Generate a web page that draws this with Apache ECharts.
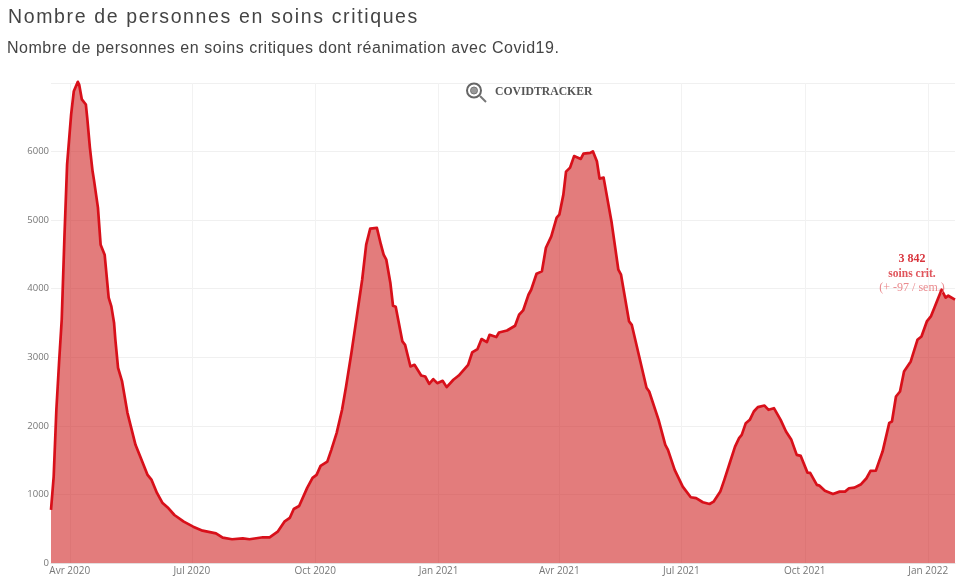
<!DOCTYPE html>
<html><head><meta charset="utf-8">
<script src="https://cdn.jsdelivr.net/npm/echarts@6/dist/echarts.min.js"></script>
<style>html,body{margin:0;padding:0;background:#fff}#c{width:960px;height:584px}</style>
</head><body><div id="c"></div>
<script>
const startDate = Date.UTC(2020, 2, 18);
const dayOffsets = [0,2,4,6,8,10,12,15,17,20,21,23,26,27,29,31,32,35,37,40,43,45,47,48,50,53,57,63,66,72,75,79,83,87,92,99,106,113,123,128,135,143,148,158,163,169,174,178,181,185,191,195,198,201,206,209,213,217,220,224,228,232,235,238,243,246,248,250,253,255,257,262,264,268,271,276,279,282,285,288,292,295,300,304,311,314,318,321,325,327,332,334,340,346,349,352,356,358,362,366,369,373,377,379,382,384,387,390,395,397,402,404,407,409,412,418,423,425,431,433,444,446,453,458,460,465,471,477,481,486,491,494,499,502,506,510,513,515,518,521,524,527,532,535,539,544,548,552,556,559,564,566,571,573,577,583,588,592,595,599,604,608,611,615,620,625,627,630,633,636,641,646,649,653,656,659,661,664,667,669,674];
const patients = [775,1260,2235,2920,3550,4745,5810,6540,6880,7017,6978,6760,6686,6495,6058,5712,5591,5182,4642,4496,3869,3742,3504,3255,2847,2647,2190,1723,1577,1285,1212,1022,880,810,700,603,530,472,433,369,346,360,346,375,375,457,603,657,788,832,1095,1241,1285,1416,1479,1650,1898,2234,2574,3066,3596,4131,4642,4876,4886,4642,4496,4423,4088,3752,3737,3231,3182,2866,2890,2734,2720,2613,2682,2623,2657,2565,2672,2734,2890,3070,3120,3266,3222,3328,3295,3362,3391,3460,3620,3683,3912,3985,4219,4253,4598,4764,5036,5080,5372,5708,5766,5934,5893,5971,5981,6004,5858,5606,5620,4964,4277,4204,3523,3474,2555,2501,2088,1723,1650,1358,1114,959,945,886,861,895,1041,1212,1455,1698,1820,1869,2039,2088,2209,2273,2296,2234,2258,2088,1917,1796,1577,1562,1318,1314,1139,1128,1055,1007,1041,1041,1090,1099,1149,1236,1343,1347,1625,2044,2063,2428,2501,2793,2939,3255,3304,3523,3596,3742,3839,3985,3869,3898,3842];
const tickDates = ['2020-04-01','2020-07-01','2020-10-01','2021-01-01','2021-04-01','2021-07-01','2021-10-01','2022-01-01'];
const tickLabels = ['Avr 2020','Jul 2020','Oct 2020','Jan 2021','Avr 2021','Jul 2021','Oct 2021','Jan 2022'];
const titleText = 'Nombre de personnes en soins critiques';
const subtitleText = 'Nombre de personnes en soins critiques dont réanimation avec Covid19.';
const annotationLines = ['3 842','soins crit.','(+ -97 / sem.)'];

// Letter spacing for the two heading lines (the text layer has no such option).
const spacedText = {[titleText]:'1.63px',[subtitleText]:'0.53px'};
const baseFillText = CanvasRenderingContext2D.prototype.fillText;
CanvasRenderingContext2D.prototype.fillText = function(t,x,y,m){
  const s = spacedText[t];
  if(s){ this.letterSpacing = s; }
  const r = m===undefined ? baseFillText.call(this,t,x,y) : baseFillText.call(this,t,x,y,m);
  if(s){ this.letterSpacing = '0px'; }
  return r;
};

const DAY = 86400000;
const seriesData = dayOffsets.map((d,i)=>[startDate + d*DAY, patients[i]]);
const tickTimes = tickDates.map(s=>Date.parse(s+'T00:00:00Z'));

const chart = echarts.init(document.getElementById('c'), null, {renderer:'canvas'});
chart.setOption({
  animation:false,
  backgroundColor:'#fff',
  grid:{left:51,right:5,top:83,bottom:21,containLabel:false},
  xAxis:{
    type:'value',
    scale:true,
    min:startDate,
    max:startDate+674*DAY,
    axisLine:{show:true,lineStyle:{color:'#e4dede',width:1}},
    axisTick:{show:false,customValues:tickTimes},
    splitLine:{show:true,lineStyle:{color:'#f2f2f2',width:1}},
    axisLabel:{
      customValues:tickTimes,
      hideOverlap:false,
      color:'#777',fontSize:10,fontFamily:'Open Sans',margin:3,
      formatter:(v)=>{const i=tickTimes.indexOf(v);return i>=0?tickLabels[i]:'';}
    }
  },
  yAxis:{
    type:'value',min:0,max:7000,interval:1000,
    axisLine:{show:false},axisTick:{show:false},
    splitLine:{lineStyle:{color:'#f0f0f0',width:1}},
    axisLabel:{color:'#777',fontSize:9.5,fontFamily:'Open Sans',margin:2,
      showMaxLabel:false,
      formatter:(v)=>v>=7000?'':String(v)}
  },
  series:[{
    type:'line',data:seriesData,showSymbol:false,smooth:false,clip:false,
    lineStyle:{color:'#d8101a',width:2.7,join:'round'},
    areaStyle:{color:'rgba(205,24,24,0.57)',opacity:1},
    emphasis:{disabled:true},
    z:3
  }],
  graphic:[
    {type:'text',left:8,top:8,style:{text:titleText,fill:'#444',font:'19.5px "Liberation Sans"'}},
    {type:'text',left:7,top:41,style:{text:subtitleText,fill:'#444',font:'16px "Liberation Sans"'}},
    {type:'circle',z:10,shape:{cx:474,cy:90.5,r:7},style:{fill:'none',stroke:'#666',lineWidth:2}},
    {type:'circle',z:10,shape:{cx:474,cy:90.5,r:3.5},style:{fill:'#999',stroke:'#777',lineWidth:1}},
    {type:'line',z:10,shape:{x1:480,y1:96,x2:486,y2:102},style:{stroke:'#777',lineWidth:2}},
    {type:'text',z:10,x:495,y:92,style:{text:'COVIDTRACKER',fill:'#555',font:'bold 11.7px "Liberation Serif"',textVerticalAlign:'middle'}},
    {type:'text',z:10,x:912,y:259,style:{text:annotationLines[0],fill:'#d9353d',font:'bold 12px "Liberation Serif"',textAlign:'center',textVerticalAlign:'middle'}},
    {type:'text',z:10,x:912,y:274,style:{text:annotationLines[1],fill:'#e0555c',font:'bold 11.5px "Liberation Serif"',textAlign:'center',textVerticalAlign:'middle'}},
    {type:'text',z:10,x:912,y:288,style:{text:annotationLines[2],fill:'#ea8a8e',font:'12px "Liberation Serif"',textAlign:'center',textVerticalAlign:'middle'}}
  ]
});
</script></body></html>
